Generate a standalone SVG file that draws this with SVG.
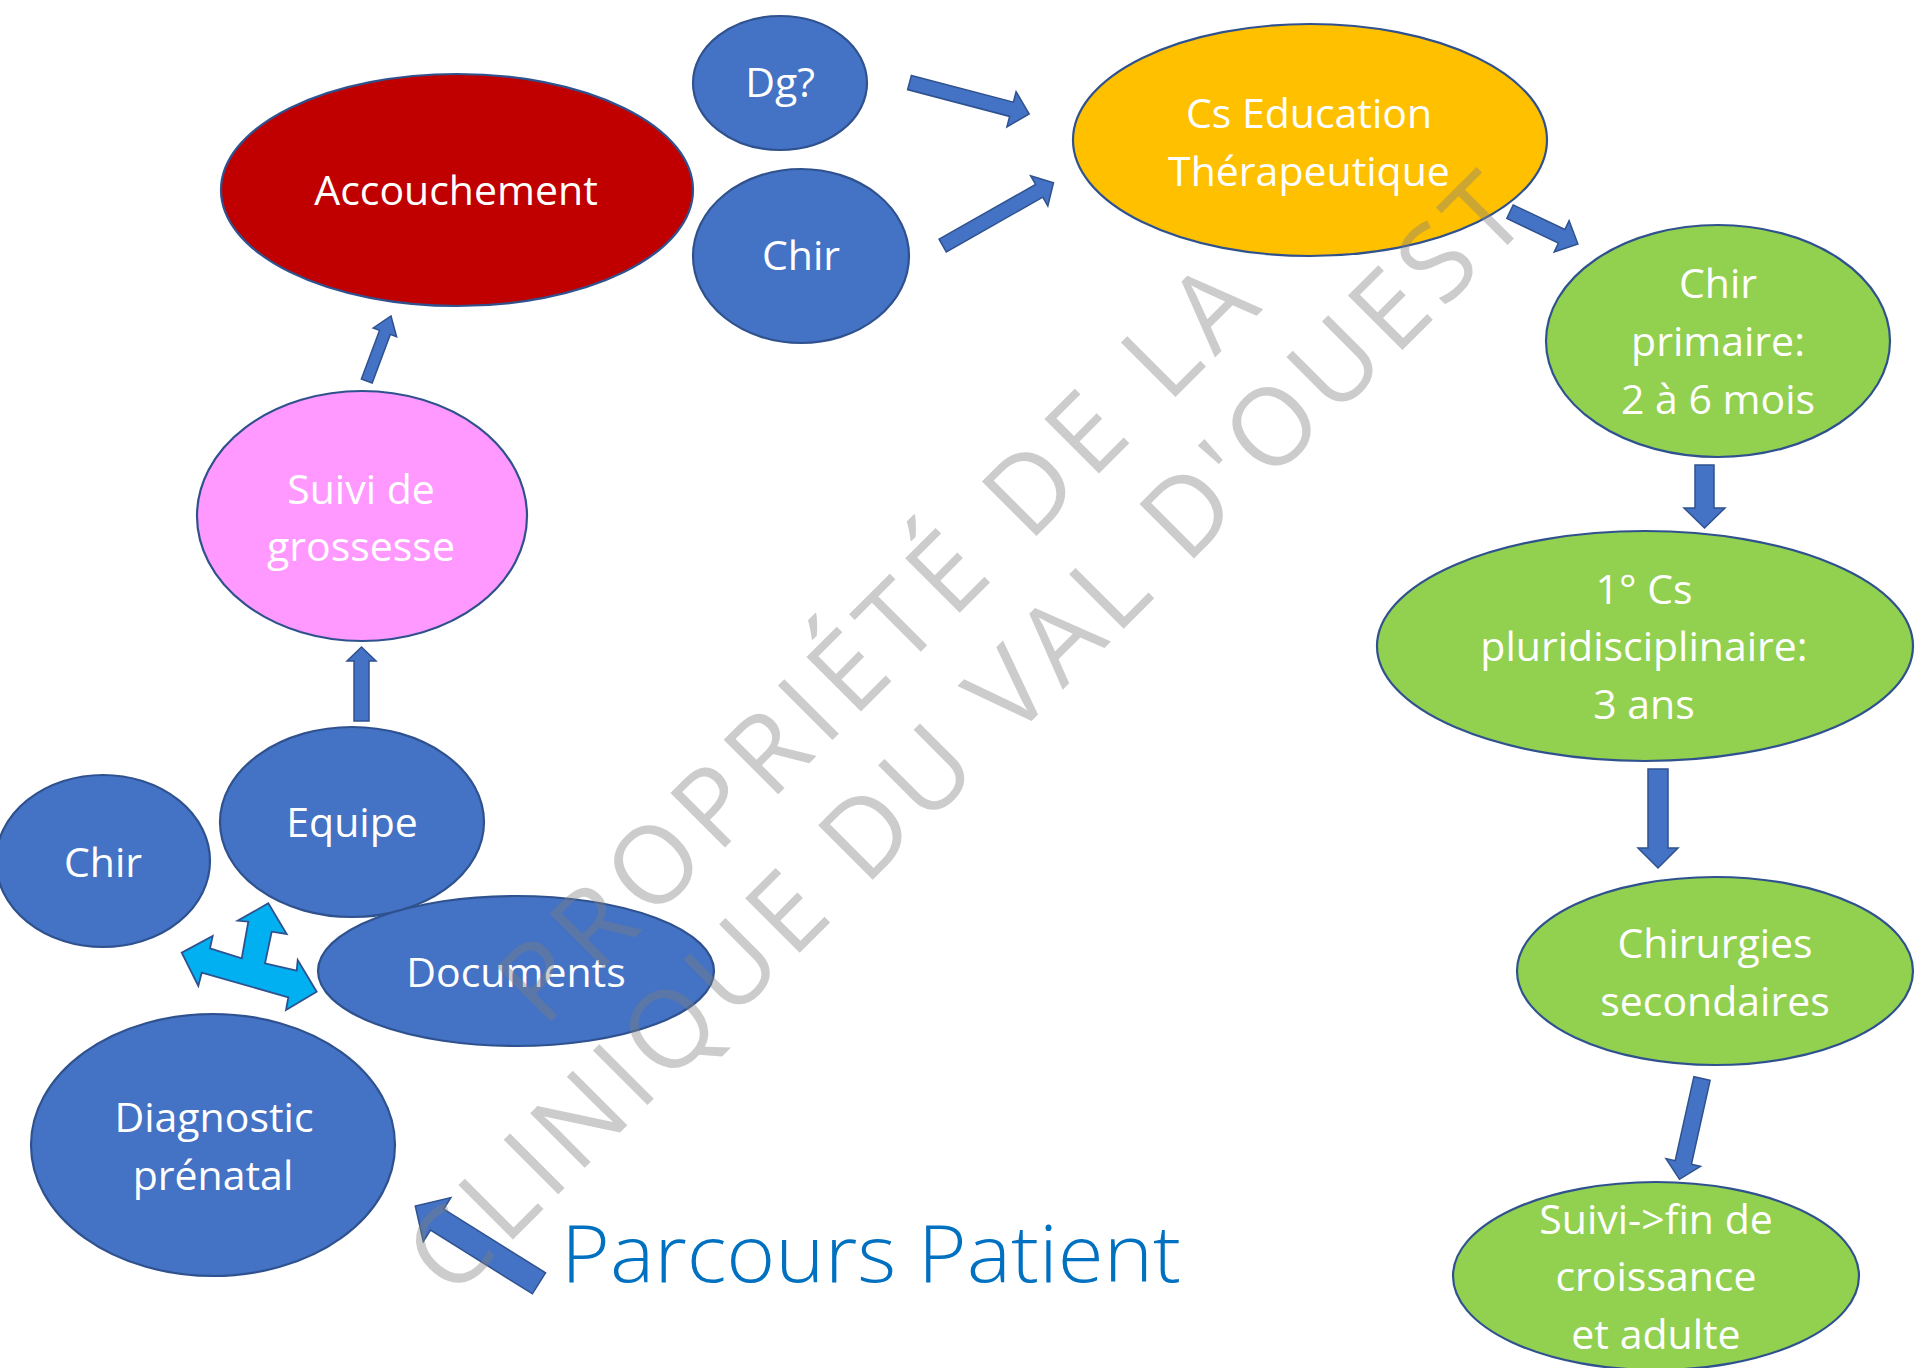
<svg xmlns="http://www.w3.org/2000/svg" width="1920" height="1368" viewBox="0 0 1920 1368">
<style>
.n{stroke:#2F528F;stroke-width:2.2}
.blue{fill:#4472C4}
.red{fill:#C00000}
.yel{fill:#FFC000}
.grn{fill:#92D050}
.pink{fill:#FF99FF}
.t{font-family:"Open Sans","Liberation Sans",sans-serif;font-size:41px;fill:#FFFFFF;text-anchor:middle}
.arr{fill:#4472C4;stroke:#2F528F;stroke-width:1.5;stroke-linejoin:miter}
.cy{fill:#00B0F0;stroke:#2F528F;stroke-width:1.8}
.wm{font-family:"Open Sans","Liberation Sans",sans-serif;font-size:108px;font-weight:400;fill:#808080;fill-opacity:0.4;text-anchor:middle}
.title{font-family:"Open Sans","Liberation Sans",sans-serif;font-size:80px;font-weight:300;fill:#0070C0}
</style>
<rect width="1920" height="1368" fill="#FFFFFF"/>

<g id="connectors">
<polygon class="arr" points="911.4,75.4 1013.4,102.2 1016.1,91.7 1029.2,114 1006.9,126.9 1009.6,116.4 907.6,89.6"/>
<polygon class="arr" points="939.1,239.2 1035.6,184.5 1030.6,175.7 1053.5,182.7 1047.8,205.9 1042.8,197.2 946.3,251.9"/>
<polygon class="arr" points="1513.2,204.9 1564.9,229.5 1569.1,220.6 1577.9,244 1554.2,251.9 1558.4,243 1506.8,218.5"/>
<polygon class="arr" points="1695,465 1714,465 1714,508 1725,508 1704.5,528 1684,508 1695,508"/>
<polygon class="arr" points="1648,769 1668,769 1668,848 1678,848 1658,868 1638,848 1648,848"/>
<polygon class="arr" points="1710.1,1080.3 1691.4,1164.3 1700.5,1166.4 1679.5,1179.3 1666,1158.6 1675.2,1160.7 1693.9,1076.7"/>
<polygon class="arr" points="361.4,379 379.5,330.4 373.2,328 391,316 396.6,336.8 390.3,334.4 372.2,383"/>
<polygon class="arr" points="354,721 354,661 347,661 361.5,647 376,661 369,661 369,721"/>
<polygon class="arr" points="545.6,1272.8 443.7,1209.1 450.9,1197.6 415.3,1206 423.3,1241.6 430.5,1230.1 532.4,1293.8"/>
<polygon class="cy" points="268.3,903.3 286.7,934 271.7,931.7 265,963.3 296.7,970.7 297.7,960 316.7,991.7 286,1010 288.3,997.3 201.7,972.7 198.3,986 181.7,952.7 212.7,936 210,948.3 241.7,958.3 248.3,921.7 237.7,920.7"/>
</g>

<g id="node-dg">
<ellipse class="n blue" cx="780" cy="83" rx="87" ry="67"/>
<text class="t" x="780" y="97">Dg?</text>
</g>
<g id="node-accouchement">
<ellipse class="n red" cx="457" cy="190" rx="236" ry="116"/>
<text class="t" x="456" y="205">Accouchement</text>
</g>
<g id="node-chir-top">
<ellipse class="n blue" cx="801" cy="256" rx="108" ry="87"/>
<text class="t" x="801" y="270">Chir</text>
</g>
<g id="node-cs-education">
<ellipse class="n yel" cx="1310" cy="140" rx="237" ry="116"/>
<text class="t" x="1309" y="128">Cs Education</text>
<text class="t" x="1309" y="186">Thérapeutique</text>
</g>
<g id="node-chir-primaire">
<ellipse class="n grn" cx="1718" cy="341" rx="172" ry="116"/>
<text class="t" x="1718" y="298">Chir</text>
<text class="t" x="1718" y="356">primaire:</text>
<text class="t" x="1718" y="414">2 à 6 mois</text>
</g>
<g id="node-cs-pluri">
<ellipse class="n grn" cx="1645" cy="646" rx="268" ry="115"/>
<text class="t" x="1644" y="604">1° Cs</text>
<text class="t" x="1644" y="661">pluridisciplinaire:</text>
<text class="t" x="1644" y="719">3 ans</text>
</g>
<g id="node-chirurgies">
<ellipse class="n grn" cx="1715" cy="971" rx="198" ry="94"/>
<text class="t" x="1715" y="958">Chirurgies</text>
<text class="t" x="1715" y="1016">secondaires</text>
</g>
<g id="node-suivi-fin">
<ellipse class="n grn" cx="1656" cy="1276" rx="203" ry="94"/>
<text class="t" x="1656" y="1234">Suivi-&gt;fin de</text>
<text class="t" x="1656" y="1291">croissance</text>
<text class="t" x="1656" y="1349">et adulte</text>
</g>
<g id="node-suivi-grossesse">
<ellipse class="n pink" cx="362" cy="516" rx="165" ry="125"/>
<text class="t" x="361" y="504">Suivi de</text>
<text class="t" x="361" y="561">grossesse</text>
</g>
<g id="node-chir-left">
<ellipse class="n blue" cx="103" cy="861" rx="107" ry="86"/>
<text class="t" x="103" y="877">Chir</text>
</g>
<g id="node-equipe">
<ellipse class="n blue" cx="352" cy="822" rx="132" ry="95"/>
<text class="t" x="352" y="837">Equipe</text>
</g>
<g id="node-documents">
<ellipse class="n blue" cx="516" cy="971" rx="198" ry="75"/>
<text class="t" x="516" y="987">Documents</text>
</g>
<g id="node-diagnostic">
<ellipse class="n blue" cx="213" cy="1145" rx="182" ry="131"/>
<text class="t" x="214" y="1132">Diagnostic</text>
<text class="t" x="213" y="1190">prénatal</text>
</g>

<g id="title">
<text class="title" x="561" y="1282" textLength="620" lengthAdjust="spacingAndGlyphs">Parcours Patient</text>
</g>

<g id="watermark">
<text class="wm" transform="translate(903.5 669) rotate(-45)" x="0" y="0" textLength="1018" lengthAdjust="spacing">PROPRIÉTÉ DE LA</text>
<text class="wm" transform="translate(992 760.5) rotate(-45)" x="0" y="0" textLength="1527" lengthAdjust="spacing">CLINIQUE DU VAL D'OUEST</text>
</g>
</svg>
